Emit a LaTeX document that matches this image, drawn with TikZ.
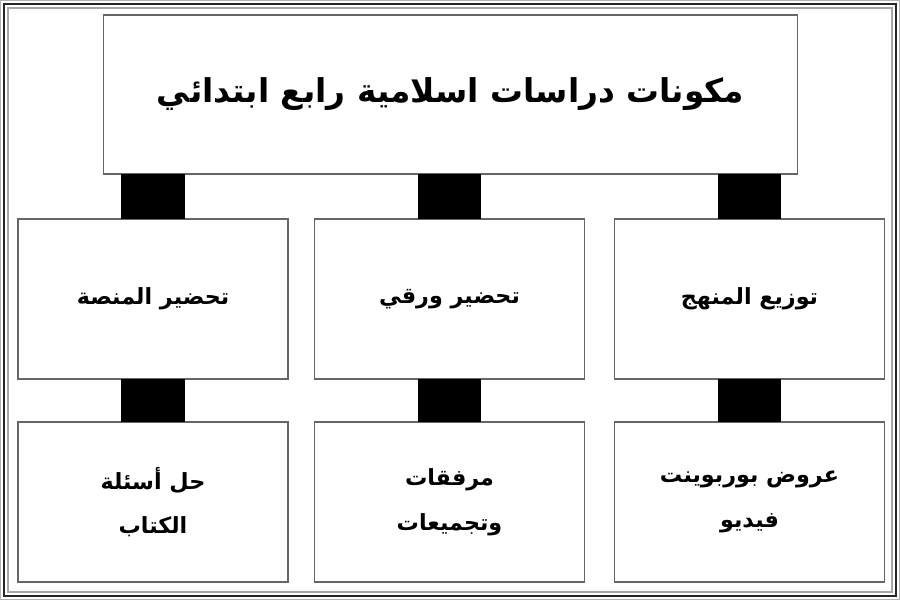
\documentclass[tikz,border=0pt]{standalone}
\usepackage{fontspec}
\newfontfamily\arabicfont[Script=Arabic]{DejaVu Sans}
\TeXXeTstate=1
\usetikzlibrary{positioning}
\tikzset{cbox/.style={draw=black!60, line width=1.1pt, inner sep=0pt, outer sep=0pt, align=center, minimum width=8.1cm, minimum height=4.8cm, font=\arabicfont\bfseries\fontsize{19}{38}\selectfont}}
\tikzset{headbox/.style={cbox, minimum width=20.8cm, minimum height=4.77cm, font=\arabicfont\bfseries\fontsize{28}{32}\selectfont}}
\tikzset{link/.style={draw=black, line width=1.9cm}}

\begin{document}
\begin{tikzpicture}[x=0.03cm, y=-0.03cm]
	\useasboundingbox (0,0) rectangle (900,600);
	% frame
	\draw[gray!60, line width=0.6pt] (0.5,0.5) rectangle (899.5,599.5);
	\draw[black!85, line width=2pt] (4,4) rectangle (896,596);
	\draw[gray!70, line width=1pt] (8,8) rectangle (892,592);

	\node[headbox] (head) at (450.5,94.5) {\beginR مكونات دراسات اسلامية رابع ابتدائي\endR};

	\node[cbox] (plan) at (749.5,299) {\beginR توزيع المنهج\endR};
	\node[cbox] (paper) at (449.5,299) {\beginR تحضير ورقي\endR};
	\node[cbox] (platform) at (153,299) {\beginR تحضير المنصة\endR};

	\node[cbox, below=1.29cm of plan] (media) {\beginR عروض بوربوينت\endR\\\beginR فيديو\endR};
	\node[cbox, below=1.29cm of paper] (extras) {\beginR مرفقات\endR\\\beginR وتجميعات\endR};
	\node[cbox, below=1.29cm of platform] (answers) {\beginR حل أسئلة\endR\\\beginR الكتاب\endR};

	\draw[link] (head.south -| plan.north) -- (plan.north);
	\draw[link] (head.south -| paper.north) -- (paper.north);
	\draw[link] (head.south -| platform.north) -- (platform.north);

	\draw[link] (plan.south) -- (media.north);
	\draw[link] (paper.south) -- (extras.north);
	\draw[link] (platform.south) -- (answers.north);
\end{tikzpicture}
\end{document}
